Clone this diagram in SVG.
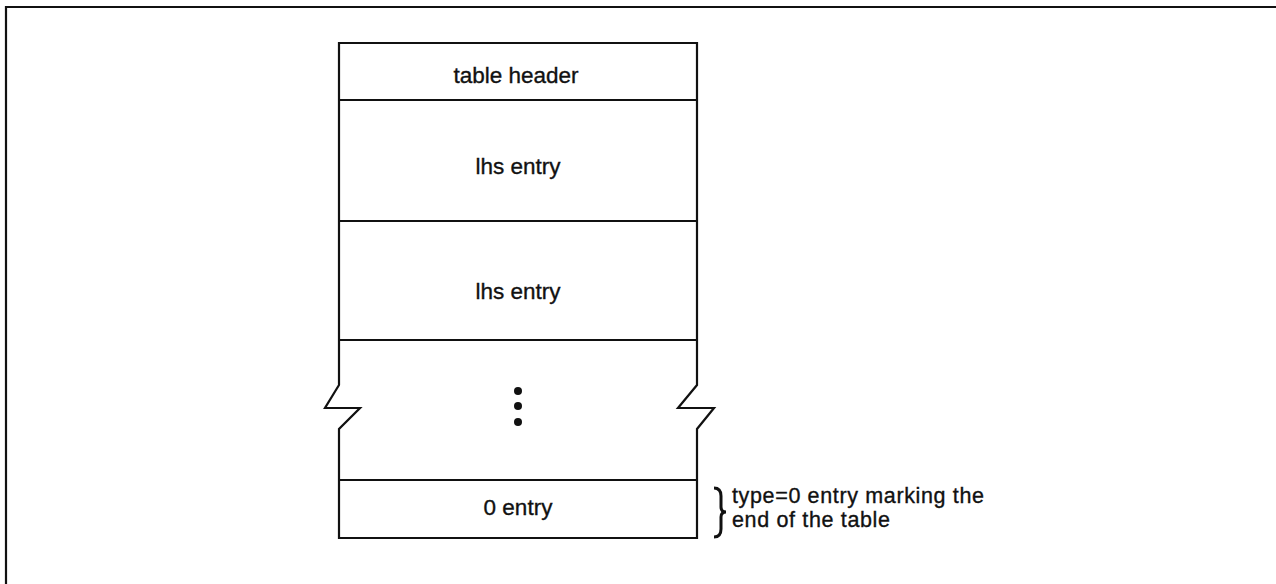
<svg xmlns="http://www.w3.org/2000/svg" width="1276" height="584" viewBox="0 0 1276 584">
<style>
.ln{fill:none;stroke:#111;stroke-width:2.2;stroke-linejoin:miter}
.t{font-family:"Liberation Sans",Arial,sans-serif;font-size:22.5px;fill:#111;stroke:#111;stroke-width:0.35}
.c{text-anchor:middle}
.a{font-size:21.5px}
</style>
<rect width="1276" height="584" fill="#fff"/>
<g id="frame">
<path class="ln" d="M6,584 V7 H1276"/>
</g>
<g id="table">
<path class="ln" d="M339,43 H697 V385 L678,408 H714 L697,429 V538 H339 V429 L360,408 H325 L339,385 Z"/>
</g>
<g id="table-header">
<line class="ln" x1="339" y1="100" x2="697" y2="100"/>
<text class="t c" x="516" y="83">table header</text>
</g>
<g id="lhs-entry-1">
<line class="ln" x1="339" y1="221" x2="697" y2="221"/>
<text class="t c" x="518" y="174">lhs entry</text>
</g>
<g id="lhs-entry-2">
<line class="ln" x1="339" y1="340" x2="697" y2="340"/>
<text class="t c" x="518" y="299">lhs entry</text>
</g>
<g id="ellipsis">
<circle cx="518" cy="391" r="4" fill="#111"/>
<circle cx="518" cy="406" r="4" fill="#111"/>
<circle cx="518" cy="422" r="4" fill="#111"/>
</g>
<g id="zero-entry">
<line class="ln" x1="339" y1="480" x2="697" y2="480"/>
<text class="t c" x="518" y="515">0 entry</text>
</g>
<g id="annotation">
<path d="M714,488 Q721,488 721,496 V507 Q721,512 726,512 Q721,512 721,517 V529 Q721,537 714,537" fill="none" stroke="#111" stroke-width="3"/>
<text class="t a" x="732" y="503" textLength="252" lengthAdjust="spacing">type=0 entry marking the</text>
<text class="t a" x="732" y="527" textLength="158" lengthAdjust="spacing">end of the table</text>
</g>
</svg>
